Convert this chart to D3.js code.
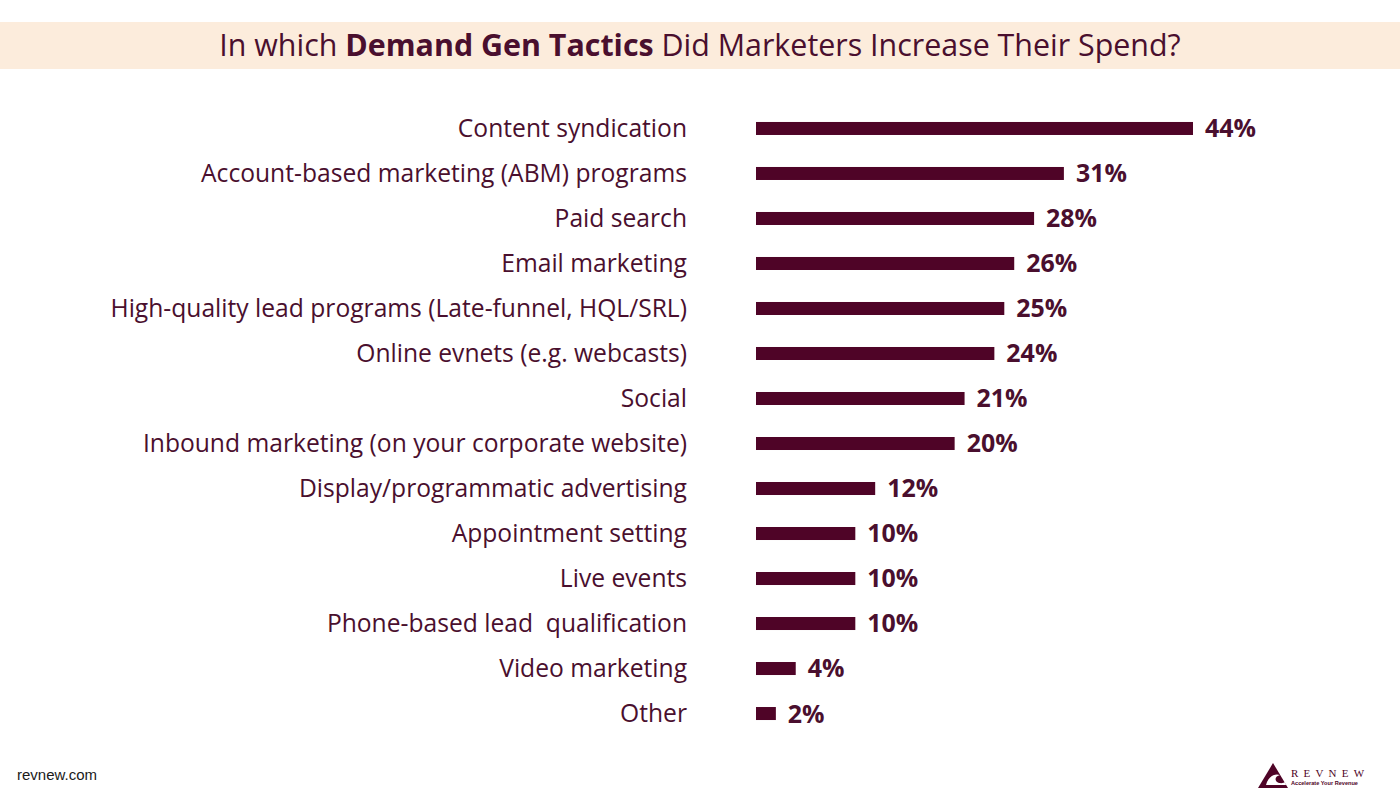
<!DOCTYPE html>
<html><head><meta charset="utf-8">
<script src="https://cdn.jsdelivr.net/npm/d3@7"></script>
<style>html,body{margin:0;padding:0;background:#fff;}svg{display:block;}</style>
</head><body>
<svg id="chart" width="1400" height="801"></svg>
<script>
const categories = [
  "Content syndication",
  "Account-based marketing (ABM) programs",
  "Paid search",
  "Email marketing",
  "High-quality lead programs (Late-funnel, HQL/SRL)",
  "Online evnets (e.g. webcasts)",
  "Social",
  "Inbound marketing (on your corporate website)",
  "Display/programmatic advertising",
  "Appointment setting",
  "Live events",
  "Phone-based lead  qualification",
  "Video marketing",
  "Other"
];
const values = [44, 31, 28, 26, 25, 24, 21, 20, 12, 10, 10, 10, 4, 2];
const valueLabels = ["44%","31%","28%","26%","25%","24%","21%","20%","12%","10%","10%","10%","4%","2%"];
const titleParts = [["In which ", 400], ["Demand Gen Tactics", 700], [" Did Marketers Increase Their Spend?", 400]];

const svg = d3.select("#chart");
const C = "#4f0427", TXT = "#4a0f2e";
const FONT = "'Open Sans', Lato, sans-serif";

// title band
svg.append("rect").attr("x",0).attr("y",22).attr("width",1400).attr("height",47).attr("fill","#fcecdc");
const title = svg.append("text").attr("x",700).attr("y",56).attr("text-anchor","middle")
  .attr("font-family",FONT).attr("font-size",27).attr("fill",TXT);
titleParts.forEach(([t,w]) => title.append("tspan").attr("font-weight",w).text(t));
{
  const w = title.node().getComputedTextLength();
  title.attr("font-size", 27*962/w);
}

const x = d3.scaleLinear().domain([0, 44]).range([756, 1193]);
const y = d3.scaleBand().domain(categories).range([106, 736]).paddingInner(0.711).paddingOuter(0.355);

const g = svg.append("g");
g.selectAll("rect.bar").data(categories).join("rect").attr("class","bar")
  .attr("x", x(0)).attr("y", d => y(d))
  .attr("width", (d,i) => x(values[i]) - x(0)).attr("height", y.bandwidth())
  .attr("fill", C);

const labels = g.selectAll("text.cat").data(categories).join("text").attr("class","cat")
  .attr("x", 687).attr("y", d => y(d) + y.bandwidth()/2).attr("dy","0.35em")
  .attr("text-anchor","end").attr("font-family",FONT).attr("font-size",22).attr("fill",TXT)
  .style("white-space","pre")
  .text(d => d);
{
  const w = labels.nodes()[4].getComputedTextLength();
  labels.attr("font-size", 22*577/w);
}

const vl = g.selectAll("text.val").data(categories).join("text").attr("class","val")
  .attr("x", (d,i) => x(values[i]) + 12).attr("y", d => y(d) + y.bandwidth()/2).attr("dy","0.36em")
  .attr("font-family",FONT).attr("font-weight",700).attr("font-size",21).attr("fill",TXT)
  .text((d,i) => valueLabels[i]);
{
  const w = vl.nodes()[0].getComputedTextLength();
  vl.attr("font-size", 21*51/w);
}

// footer
svg.append("text").attr("x",17).attr("y",780).attr("font-family","'Liberation Sans', Arial, sans-serif")
  .attr("font-size",15).attr("fill","#1a1a1a").text("revnew.com");

// logo
const logo = svg.append("g").attr("transform","translate(1258,763)");
logo.append("path").attr("d","M15,0 L30,25 L0,25 Z").attr("fill",C);
logo.append("path").attr("d","M8,22 C10,14 16,10 22,12 C18,13 16,16 19,19 C22,21 26,20 27,19 L28,22 Z").attr("fill","#fff");
svg.append("text").attr("x",1291).attr("y",777).attr("font-family","'Liberation Serif', serif")
  .attr("font-size",11).attr("letter-spacing",5.2).attr("fill",C).text("REVNEW");
svg.append("text").attr("x",1291).attr("y",785).attr("font-family","'Liberation Sans', sans-serif")
  .attr("font-weight",700).attr("font-size",5.6).attr("fill",C).text("Accelerate Your Revenue");
</script>
</body></html>
